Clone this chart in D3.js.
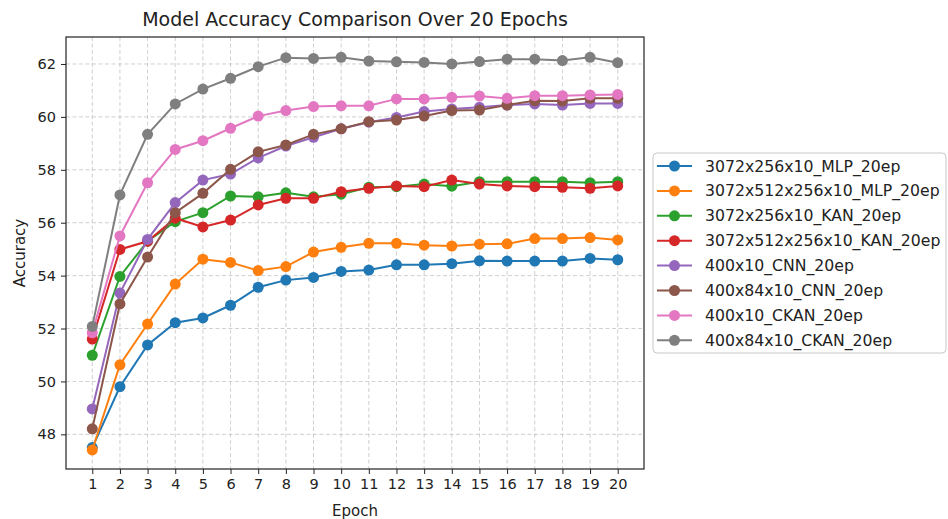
<!DOCTYPE html>
<html>
<head>
<meta charset="utf-8">
<script src="https://cdn.jsdelivr.net/npm/d3@7"></script>
<style>
  body { margin: 0; background: #fff; }
  text { font-family: "DejaVu Sans", sans-serif; fill: #222; }
</style>
</head>
<body>
<script>
var epochs = [1,2,3,4,5,6,7,8,9,10,11,12,13,14,15,16,17,18,19,20];

var mlp256 = [47.50,49.80,51.38,52.22,52.40,52.88,53.56,53.83,53.93,54.16,54.21,54.41,54.41,54.45,54.56,54.55,54.55,54.55,54.65,54.60];
var mlp512 = [47.41,50.63,52.17,53.68,54.62,54.50,54.19,54.34,54.89,55.07,55.22,55.22,55.15,55.12,55.19,55.20,55.40,55.40,55.44,55.35];
var kan256 = [50.99,53.97,55.30,56.04,56.38,57.01,56.98,57.13,56.98,57.08,57.34,57.36,57.46,57.38,57.55,57.55,57.55,57.55,57.51,57.55];
var kan512 = [51.60,54.99,55.30,56.17,55.84,56.10,56.67,56.92,56.92,57.17,57.30,57.39,57.36,57.61,57.46,57.39,57.36,57.34,57.30,57.39];
var cnn400 = [48.96,53.34,55.37,56.76,57.61,57.84,58.45,58.90,59.23,59.55,59.80,59.98,60.20,60.30,60.36,60.45,60.49,60.45,60.51,60.51];
var cnn84 = [48.21,52.93,54.70,56.38,57.11,58.02,58.68,58.94,59.34,59.55,59.82,59.88,60.03,60.24,60.26,60.45,60.61,60.60,60.70,60.70];
var ckan400 = [51.84,55.50,57.51,58.77,59.10,59.57,60.03,60.24,60.39,60.42,60.42,60.68,60.68,60.74,60.79,60.70,60.80,60.80,60.83,60.85];
var ckan84 = [52.08,57.05,59.34,60.49,61.05,61.46,61.90,62.24,62.21,62.25,62.11,62.08,62.06,62.00,62.09,62.18,62.18,62.13,62.25,62.05];

var names = ["3072x256x10_MLP_20ep","3072x512x256x10_MLP_20ep","3072x256x10_KAN_20ep","3072x512x256x10_KAN_20ep",
             "400x10_CNN_20ep","400x84x10_CNN_20ep","400x10_CKAN_20ep","400x84x10_CKAN_20ep"];
var yTicks = [48,50,52,54,56,58,60,62];

var series = [mlp256, mlp512, kan256, kan512, cnn400, cnn84, ckan400, ckan84];
var colors = ["#1f77b4","#ff7f0e","#2ca02c","#d62728","#9467bd","#8c564b","#e377c2","#7f7f7f"];

var W = 948, H = 519;
var pL = 66, pR = 644, pT = 37, pB = 469;

var svg = d3.select("body").append("svg")
    .attr("width", W)
    .attr("height", H);

var x = d3.scaleLinear().domain([0.05, 20.95]).range([pL, pR]);
var y = d3.scaleLinear().domain([46.69, 63.02]).range([pB, pT]);

// grid
svg.append("g").selectAll("line")
    .data(epochs).enter().append("line")
    .attr("x1", d => x(d)).attr("x2", d => x(d))
    .attr("y1", pT).attr("y2", pB)
    .attr("stroke", "#b0b0b0").attr("stroke-width", 0.8)
    .attr("stroke-dasharray", "4,2.5").attr("opacity", 0.75);
svg.append("g").selectAll("line")
    .data(yTicks).enter().append("line")
    .attr("x1", pL).attr("x2", pR)
    .attr("y1", d => y(d)).attr("y2", d => y(d))
    .attr("stroke", "#b0b0b0").attr("stroke-width", 0.8)
    .attr("stroke-dasharray", "4,2.5").attr("opacity", 0.75);

// axes
var xAxis = svg.append("g")
    .attr("transform", "translate(0," + pB + ")")
    .call(d3.axisBottom(x).tickValues(epochs).tickSize(5).tickPadding(5).tickFormat(d3.format("d")));
var yAxis = svg.append("g")
    .attr("transform", "translate(" + pL + ",0)")
    .call(d3.axisLeft(y).tickValues(yTicks).tickSize(5).tickPadding(5).tickFormat(d3.format("d")));
[xAxis, yAxis].forEach(function(g){
    g.select(".domain").remove();
    g.selectAll(".tick line").attr("stroke", "#222").attr("stroke-width", 1);
    g.selectAll(".tick text").attr("font-size", 14.5).attr("font-family", "DejaVu Sans").attr("fill", "#222");
});

// lines + markers
var line = d3.line().x((d, i) => x(epochs[i])).y(d => y(d));
series.forEach(function(s, k){
    var g = svg.append("g");
    g.append("path").datum(s)
        .attr("d", line)
        .attr("fill", "none")
        .attr("stroke", colors[k])
        .attr("stroke-width", 2);
    g.selectAll("circle").data(s).enter().append("circle")
        .attr("cx", (d, i) => x(epochs[i]))
        .attr("cy", d => y(d))
        .attr("r", 5.5)
        .attr("fill", colors[k]);
});

// frame
svg.append("rect")
    .attr("x", pL).attr("y", pT)
    .attr("width", pR - pL).attr("height", pB - pT)
    .attr("fill", "none").attr("stroke", "#222").attr("stroke-width", 1.2);

// title and labels
svg.append("text").attr("x", (pL + pR) / 2).attr("y", 26)
    .attr("text-anchor", "middle").attr("font-size", 19)
    .text("Model Accuracy Comparison Over 20 Epochs");
svg.append("text").attr("x", (pL + pR) / 2).attr("y", 516)
    .attr("text-anchor", "middle").attr("font-size", 15)
    .text("Epoch");
svg.append("text")
    .attr("transform", "translate(25," + ((pT + pB) / 2) + ") rotate(-90)")
    .attr("text-anchor", "middle").attr("font-size", 15)
    .text("Accuracy");

// legend
var lg = svg.append("g");
lg.append("rect")
    .attr("x", 653).attr("y", 153).attr("width", 293).attr("height", 200)
    .attr("rx", 4).attr("fill", "#fff").attr("fill-opacity", 0.8)
    .attr("stroke", "#c8c8c8").attr("stroke-width", 1);
var items = lg.selectAll("g.item").data(names).enter().append("g")
    .attr("class", "item")
    .attr("transform", (d, i) => "translate(0," + (166 + i * 24.9) + ")");
items.append("line")
    .attr("x1", 657).attr("x2", 692).attr("y1", 0).attr("y2", 0)
    .attr("stroke", (d, i) => colors[i]).attr("stroke-width", 2);
items.append("circle")
    .attr("cx", 674.5).attr("cy", 0).attr("r", 5.5)
    .attr("fill", (d, i) => colors[i]);
items.append("text")
    .attr("x", 705).attr("y", 0).attr("dy", "0.35em")
    .attr("font-size", 15.7)
    .text(d => d);
</script>
</body>
</html>
